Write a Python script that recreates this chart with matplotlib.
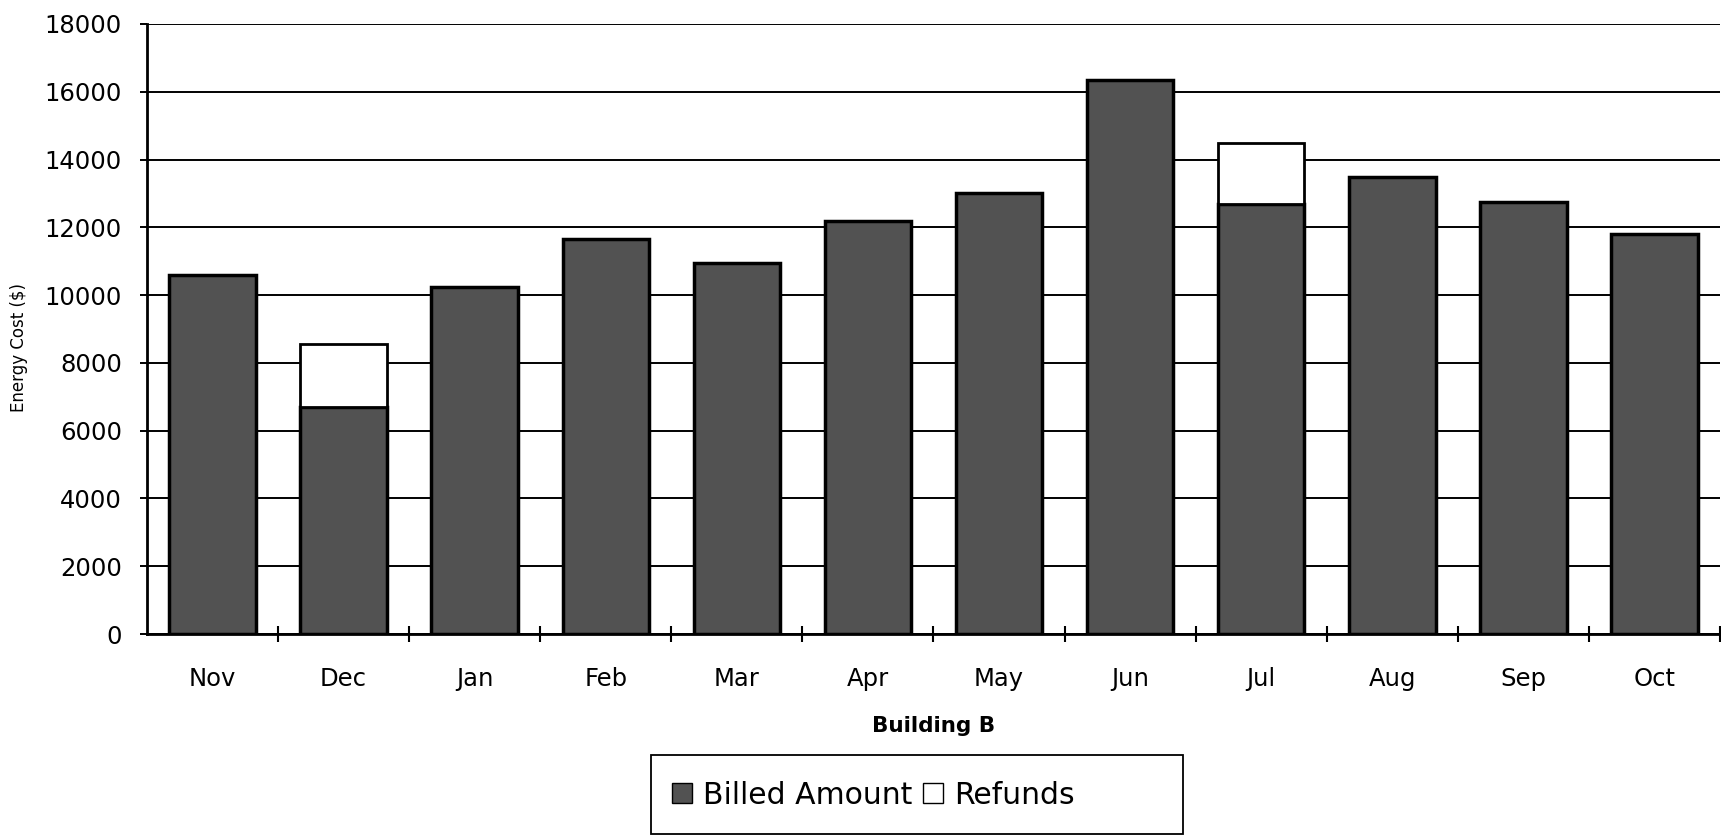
import numpy as np
import matplotlib.pyplot as plt
from matplotlib.patches import Rectangle

months  = ["Nov", "Dec", "Jan", "Feb", "Mar", "Apr", "May", "Jun", "Jul", "Aug", "Sep", "Oct"]
billed  = [10600, 6700, 10250, 11650, 10950, 12200, 13000, 16350, 12700, 13500, 12750, 11800]
refunds = [0, 1850, 0, 0, 0, 0, 0, 0, 1800, 0, 0, 0]

plt.rcParams['font.family'] = ['DejaVu Sans']

#------------------------------------------------------------------
fig = plt.figure(figsize=(17.21, 8.39), dpi=100)
ax = fig.add_axes([0.0854, 0.2443, 0.9140, 0.7271])

x = np.arange(len(months))
b1 = ax.bar(x, billed, width=0.66, color='#525252', edgecolor='black', linewidth=2.5, zorder=3)
b2 = ax.bar(x, refunds, width=0.66, bottom=billed, color='white', edgecolor='black', linewidth=2.0, zorder=3)
# hide the zero-height refund boxes
for r, v in zip(b2, refunds):
    if v == 0:
        r.set_visible(False)

ax.set_xlim(-0.5, len(months) - 0.5)
ax.set_ylim(0, 18000)
ax.set_yticks(np.arange(0, 18001, 2000))
ax.yaxis.grid(True, color='black', linewidth=1.4)
ax.set_axisbelow(True)

ax.set_xticks(x)
ax.set_xticklabels(months, fontsize=17.5)
ax.set_xticks(np.arange(0.5, len(months) - 0.5 + 0.01, 1), minor=True)
ax.tick_params(axis='x', which='major', length=0, pad=24)
ax.tick_params(axis='x', which='minor', direction='inout', length=12, width=1.5)
ax.tick_params(axis='y', labelsize=17.5, length=5, width=1.4, pad=13)

for s in ['top', 'right']:
    ax.spines[s].set_visible(False)
ax.spines['left'].set_linewidth(2)
ax.spines['bottom'].set_linewidth(2)

ax.set_xlabel("Building B", fontsize=15.5, fontweight='bold', labelpad=18)
ax.set_ylabel("Energy Cost ($)", fontsize=12)
ax.yaxis.set_label_coords(-0.0755, 0.47)

# legend with its own box
handles = [Rectangle((0, 0), 1, 1, facecolor='#525252', edgecolor='black', linewidth=1),
           Rectangle((0, 0), 1, 1, facecolor='white', edgecolor='black', linewidth=1)]
fig.legend(handles, ["Billed Amount", "Refunds"], loc='center left',
           bbox_to_anchor=(672 / 1721, 1 - 795 / 839), bbox_transform=fig.transFigure,
           frameon=False, ncol=2, fontsize=21.5, handlelength=0.67, handleheight=0.67,
           handletextpad=0.38, columnspacing=0.35, borderpad=0, borderaxespad=0)
fig.add_artist(Rectangle((651 / 1721, 1 - 834 / 839), (1183 - 651) / 1721, 79 / 839,
                         transform=fig.transFigure, fill=False, edgecolor='black', linewidth=1.3))

fig.savefig("out.png", dpi=100)
